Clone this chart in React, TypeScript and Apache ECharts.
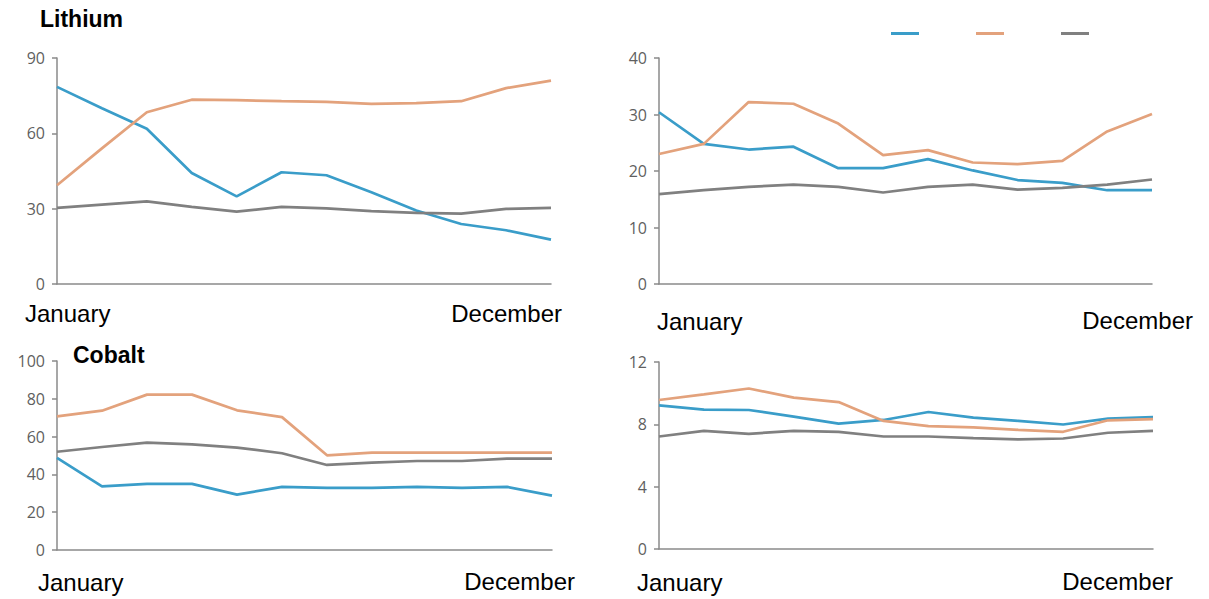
import React, { useEffect, useRef } from "react";
import * as echarts from "echarts";

const months = ["January","February","March","April","May","June","July","August","September","October","November","December"];
const seriesNames = ["Series 1", "Series 2", "Series 3"];
const colors = ["#3a9dc9", "#e3a27c", "#808080"];

// Lithium (top-left)
const lithiumBlue = [78.5, 70, 61.8, 44.2, 34.9, 44.5, 43.3, 36.5, 29.3, 23.9, 21.4, 17.7];
const lithiumOrange = [39.3, 54, 68.4, 73.4, 73.2, 72.8, 72.5, 71.7, 72, 72.8, 78, 81];
const lithiumGray = [30.3, 31.6, 32.9, 30.7, 28.8, 30.7, 30.1, 29, 28.3, 28, 29.9, 30.3];

// Top-right
const topRightBlue = [30.4, 24.8, 23.8, 24.3, 20.5, 20.5, 22.1, 20.1, 18.4, 17.9, 16.6, 16.6];
const topRightOrange = [23, 24.8, 32.2, 31.9, 28.4, 22.8, 23.7, 21.5, 21.2, 21.8, 27, 30.1];
const topRightGray = [15.9, 16.6, 17.2, 17.6, 17.2, 16.2, 17.2, 17.6, 16.7, 17, 17.6, 18.5];

// Cobalt (bottom-left)
const cobaltBlue = [48.8, 33.7, 35, 35, 29.3, 33.4, 32.9, 32.9, 33.4, 32.9, 33.4, 28.8];
const cobaltOrange = [70.7, 73.7, 82.2, 82.2, 73.9, 70.3, 50.1, 51.5, 51.5, 51.5, 51.5, 51.5];
const cobaltGray = [52, 54.5, 56.8, 55.9, 54.2, 51.2, 45, 46.2, 47.1, 47.1, 48.3, 48.3];

// Bottom-right
const bottomRightBlue = [9.22, 8.94, 8.92, 8.5, 8.05, 8.28, 8.79, 8.43, 8.22, 7.99, 8.37, 8.47];
const bottomRightOrange = [9.56, 9.92, 10.3, 9.71, 9.43, 8.22, 7.88, 7.8, 7.65, 7.52, 8.26, 8.33];
const bottomRightGray = [7.22, 7.58, 7.39, 7.58, 7.52, 7.22, 7.22, 7.11, 7.03, 7.09, 7.46, 7.58];

const yMax = [90, 40, 100, 12];
const yInterval = [30, 10, 20, 4];
const panelData = [
  [lithiumBlue, lithiumOrange, lithiumGray],
  [topRightBlue, topRightOrange, topRightGray],
  [cobaltBlue, cobaltOrange, cobaltGray],
  [bottomRightBlue, bottomRightOrange, bottomRightGray],
];
const titles = ["Lithium", "Cobalt"];
const firstLabel = months[0];
const lastLabel = months[11];

export default function App() {
  const ref = useRef<HTMLDivElement>(null);
  useEffect(() => {
    if (!ref.current) return;
    const chart = echarts.init(ref.current, null, { renderer: "svg" });
    const grids = [
      { left: 57, top: 58, width: 494, height: 226 },
      { left: 659, top: 58, width: 493, height: 226 },
      { left: 57, top: 361, width: 495, height: 189 },
      { left: 659, top: 362, width: 494, height: 187 },
    ];
    const axisColor = "#8a8a8a";
    const xAxis = grids.map((_, i) => ({
      type: "category",
      gridIndex: i,
      data: months,
      boundaryGap: false,
      axisLine: { lineStyle: { color: axisColor, width: 1.5 } },
      axisTick: { show: false },
      axisLabel: { show: false },
    }));
    const yAxis = grids.map((_, i) => ({
      type: "value",
      gridIndex: i,
      min: 0,
      max: yMax[i],
      interval: yInterval[i],
      splitLine: { show: false },
      axisLine: { show: true, lineStyle: { color: axisColor, width: 1.5 } },
      axisTick: { show: true, length: 5, lineStyle: { color: axisColor, width: 1.5 } },
      axisLabel: { color: "#5f5f5f", fontSize: 16, fontFamily: "Open Sans", margin: 12 },
    }));
    const series: any[] = [];
    panelData.forEach((group, gi) => {
      group.forEach((vals, si) => {
        series.push({
          type: "line",
          name: seriesNames[si],
          xAxisIndex: gi,
          yAxisIndex: gi,
          data: vals,
          symbol: "none",
          lineStyle: { color: colors[si], width: 2.7 },
          itemStyle: { color: colors[si] },
        });
      });
    });
    const textFont = "24px 'Liberation Sans', Arial, sans-serif";
    const titleFont = "bold 23px 'Liberation Sans', Arial, sans-serif";
    const lab = (x: number, y: number, text: string, align: string, font: string) => ({
      type: "text",
      style: { x, y, text, font, fill: "#000", textAlign: align, textVerticalAlign: "middle" },
    });
    chart.setOption({
      animation: false,
      grid: grids,
      xAxis,
      yAxis,
      series,
      legend: {
        data: seriesNames,
        left: 891,
        top: 32,
        padding: 0,
        icon: "rect",
        itemWidth: 28,
        itemHeight: 3,
        itemGap: 57,
        formatter: () => "",
        textStyle: { fontSize: 1 },
      },
      graphic: [
        lab(40, 19, titles[0], "left", titleFont),
        lab(73, 355, titles[1], "left", titleFont),
        lab(25, 313, firstLabel, "left", textFont),
        lab(562, 313, lastLabel, "right", textFont),
        lab(657, 321, firstLabel, "left", textFont),
        lab(1193, 320, lastLabel, "right", textFont),
        lab(38, 582, firstLabel, "left", textFont),
        lab(575, 581, lastLabel, "right", textFont),
        lab(637, 582, firstLabel, "left", textFont),
        lab(1173, 581, lastLabel, "right", textFont),
      ],
    });
    return () => chart.dispose();
  }, []);
  return (
    <div
      ref={ref}
      style={{ position: "fixed", left: 0, top: 0, width: 1209, height: 599, background: "#fff" }}
    />
  );
}
